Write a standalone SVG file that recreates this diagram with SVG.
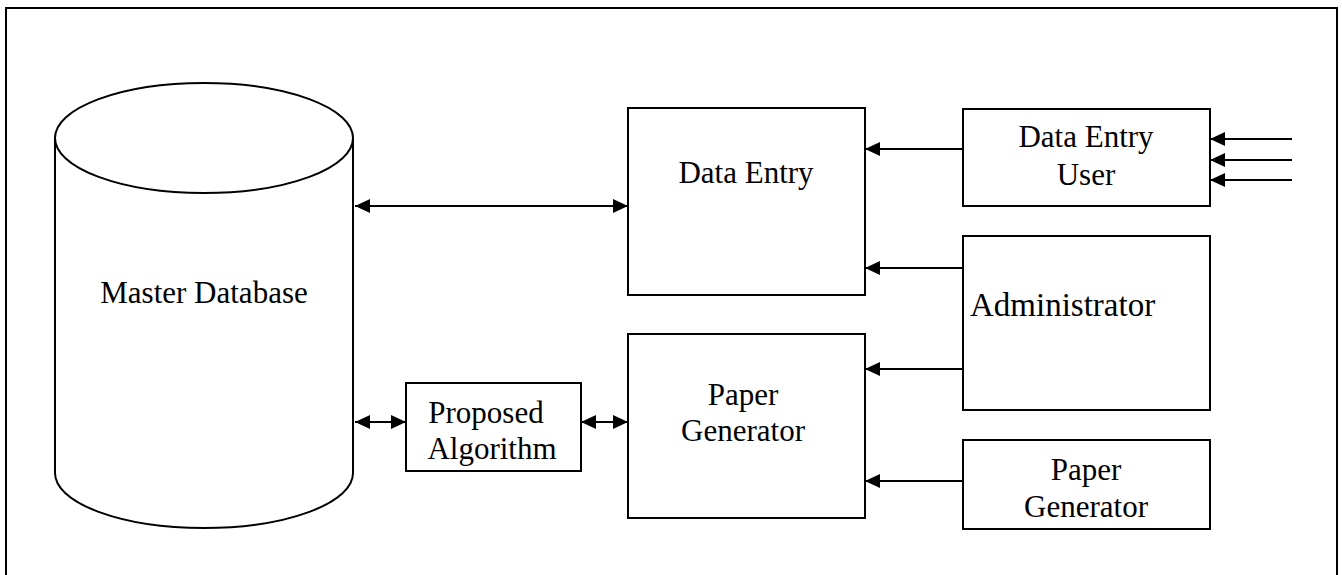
<svg xmlns="http://www.w3.org/2000/svg" width="1342" height="575" viewBox="0 0 1342 575">
<style>
.box{fill:#fff;stroke:#000;stroke-width:2}
.ln{fill:none;stroke:#000;stroke-width:2}
.t{font-family:"Liberation Serif","Times New Roman",serif;font-size:31px;fill:#000}
.c{text-anchor:middle}
</style>
<defs>
<marker id="ah" markerUnits="userSpaceOnUse" markerWidth="16" markerHeight="16" refX="15" refY="8" orient="auto-start-reverse" viewBox="0 0 16 16">
<path d="M0,1 L15,8 L0,15 z" fill="#000"/>
</marker>
</defs>
<rect width="1342" height="575" fill="#fff"/>
<path class="ln" d="M6,590 V8 H1337 V590"/>
<g id="master-database">
<path class="box" d="M55,138 V473 A149,55 0 0 0 353,473 V138"/>
<ellipse class="box" cx="204" cy="138" rx="149" ry="55"/>
<text class="t c" x="204" y="303">Master Database</text>
</g>
<g id="data-entry">
<rect class="box" x="628" y="108" width="237" height="187"/>
<text class="t c" x="746" y="183">Data Entry</text>
</g>
<g id="data-entry-user">
<rect class="box" x="963" y="109" width="247" height="97"/>
<text class="t c" x="1086" y="147">Data Entry</text>
<text class="t c" x="1086" y="185">User</text>
</g>
<g id="administrator">
<rect class="box" x="963" y="236" width="247" height="174"/>
<text class="t" x="970" y="316" style="font-size:33px">Administrator</text>
</g>
<g id="paper-generator-main">
<rect class="box" x="628" y="334" width="237" height="184"/>
<text class="t c" x="743" y="405">Paper</text>
<text class="t c" x="743" y="441">Generator</text>
</g>
<g id="paper-generator-user">
<rect class="box" x="963" y="440" width="247" height="89"/>
<text class="t c" x="1086" y="480">Paper</text>
<text class="t c" x="1086" y="517">Generator</text>
</g>
<g id="proposed-algorithm">
<rect class="box" x="406" y="383" width="175" height="88"/>
<text class="t c" x="486" y="423">Proposed</text>
<text class="t c" x="492" y="459">Algorithm</text>
</g>
<g id="connectors">
<line class="ln" x1="355" y1="206" x2="628" y2="206" marker-start="url(#ah)" marker-end="url(#ah)"/>
<line class="ln" x1="355" y1="422" x2="406" y2="422" marker-start="url(#ah)" marker-end="url(#ah)"/>
<line class="ln" x1="581" y1="422" x2="628" y2="422" marker-start="url(#ah)" marker-end="url(#ah)"/>
<line class="ln" x1="963" y1="149" x2="865" y2="149" marker-end="url(#ah)"/>
<line class="ln" x1="963" y1="268" x2="865" y2="268" marker-end="url(#ah)"/>
<line class="ln" x1="963" y1="369" x2="865" y2="369" marker-end="url(#ah)"/>
<line class="ln" x1="963" y1="481" x2="865" y2="481" marker-end="url(#ah)"/>
<line class="ln" x1="1292" y1="139" x2="1210" y2="139" marker-end="url(#ah)"/>
<line class="ln" x1="1292" y1="160" x2="1210" y2="160" marker-end="url(#ah)"/>
<line class="ln" x1="1292" y1="180" x2="1210" y2="180" marker-end="url(#ah)"/>
</g>
</svg>
